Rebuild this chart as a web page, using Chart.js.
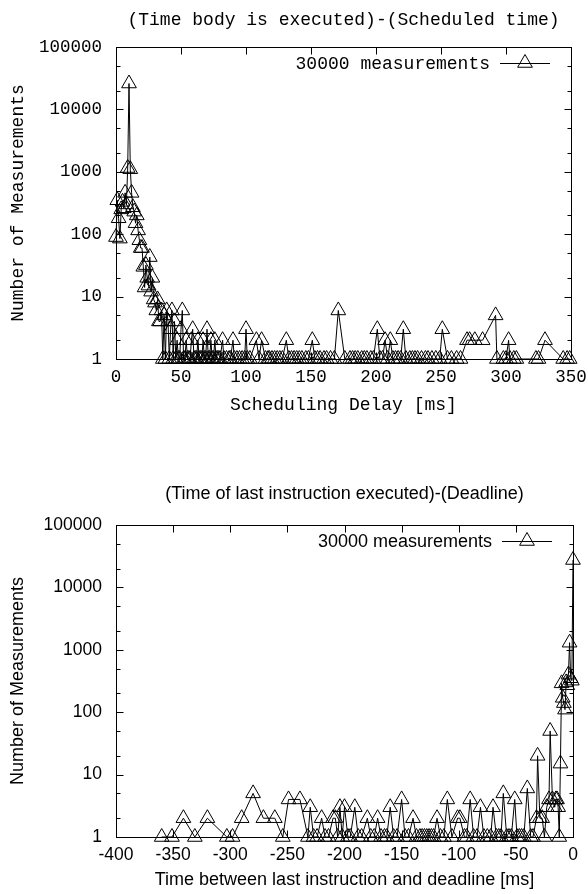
<!DOCTYPE html>
<html><head><meta charset="utf-8">
<script src="https://cdn.jsdelivr.net/npm/chart.js@4.4.1/dist/chart.umd.min.js"></script>
<style>
html,body{margin:0;padding:0;background:#fff;}
#wrap{position:relative;width:588px;height:894px;overflow:hidden;background:#fff;}
canvas{position:absolute;left:0;}
</style></head><body>
<div id="wrap">
<canvas id="c1" width="588" height="447" style="top:0px"></canvas>
<canvas id="c2" width="588" height="447" style="top:447px"></canvas>
</div>
<script>
// ---------- data ----------
const topDelay = [0,1,2,3,4,5,6,7,8,9,10,11,12,13,14,15,16,17,18,19,20,21,22,23,24,25,26,27,28,29,30,31,32,33,34,35,36,37,38,39,40,41,42,43,44,45,46,47,48,49,50,51,52,53,54,55,56,57,58,59,60,61,62,63,64,65,66,67,68,69,70,71,72,73,74,75,76,77,78,79,80,82,83,85,87,88,90,91,93,95,97,99,100,101,103,108,110,112,115,117,118,120,122,124,126,128,131,133,135,137,139,141,143,146,148,151,153,155,157,160,162,165,168,171,176,180,182,184,186,189,191,193,196,198,201,203,205,207,209,211,213,215,217,219,221,223,226,228,230,232,235,238,240,243,246,249,251,255,258,262,265,270,272,276,282,292,293,298,300,302,303,306,308,323,325,330,344,347,349];
const topCount = [90,350,180,85,250,330,260,460,300,1150,26000,1100,460,270,230,150,200,115,80,60,60,30,14,32,20,15,43,12,20,9,8,6,9,4,4,6,1,5,1,6,4,1,3,6,1,4,1,2,1,1,3,6,1,1,2,1,1,1,2,3,1,1,1,2,1,1,1,2,1,1,3,1,1,2,1,1,2,1,1,1,1,2,1,1,1,1,2,1,1,1,1,1,3,1,1,2,1,2,1,1,1,1,1,1,1,1,2,1,1,1,1,1,1,1,1,2,1,1,1,1,1,1,1,6,1,1,1,1,1,1,1,1,1,1,3,1,1,2,1,2,1,1,1,1,3,1,1,1,1,1,1,1,1,1,1,1,3,1,1,1,1,2,2,2,2,5,1,1,1,2,1,1,1,1,1,2,1,1,1];
const bottomDelay = [-360,-351,-341,-331,-320,-303,-298,-290,-280,-271,-261,-254,-249,-239,-232,-230,-227,-224,-220,-217,-214,-210,-208,-206,-204,-202,-200,-197,-195,-191,-188,-185,-180,-177,-174,-171,-168,-165,-163,-160,-157,-154,-150,-147,-144,-140,-137,-134,-132,-130,-128,-126,-124,-122,-119,-116,-113,-110,-106,-101,-99,-95,-93,-90,-87,-84,-81,-78,-75,-72,-70,-67,-65,-63,-61,-58,-56,-54,-51,-49,-47,-45,-43,-40,-37,-35,-32,-31,-29,-27,-25,-23,-21,-20,-18,-16,-15,-14,-13,-12,-11,-10,-9,-8,-7,-6,-5,-4,-3,-2,-1,0];
const bottomCount = [1,1,2,1,2,1,1,2,5,2,2,1,4,4,1,3,1,1,2,1,1,2,2,1,3,1,3,1,1,3,1,1,2,1,1,2,1,1,1,3,1,1,4,1,1,2,1,1,1,1,1,1,1,1,2,1,1,4,1,2,2,1,1,4,1,1,3,1,1,1,3,1,1,1,5,1,1,1,4,1,1,1,1,6,1,1,2,20,2,2,1,3,4,50,4,3,4,4,3,1,15,290,170,140,110,300,270,400,1300,350,320,27500];
const topXTicks = [0,50,100,150,200,250,300,350];
const bottomXTicks = [-400,-350,-300,-250,-200,-150,-100,-50,0];
const yTicks = [1,10,100,1000,10000,100000];
const yMinorMult = [2,5];
const legendLabel = '30000 measurements';
const topTitle = '(Time body is executed)-(Scheduled time)';
const bottomTitle = '(Time of last instruction executed)-(Deadline)';
const topXTitle = 'Scheduling Delay [ms]';
const bottomXTitle = 'Time between last instruction and deadline [ms]';
const yTitle = 'Number of Measurements';

const MONO = '"Courier New", Courier, "Nimbus Mono PS", FreeMono, "Liberation Mono", monospace';
const SANS = '"Liberation Sans", Arial, Helvetica, sans-serif';
const TRI_R = 8.5;

function triPath(ctx, x, y, r) {
  ctx.moveTo(x, y - r);
  ctx.lineTo(x + Math.sin(2*Math.PI/3) * r, y - Math.cos(2*Math.PI/3) * r);
  ctx.lineTo(x + Math.sin(4*Math.PI/3) * r, y - Math.cos(4*Math.PI/3) * r);
  ctx.closePath();
}

const boxPlugin = {
  id: 'box',
  beforeDatasetsDraw(chart, args, o) {
    const ctx = chart.ctx, a = chart.chartArea, xs = chart.scales.x, ys = chart.scales.y;
    const L = Math.round(a.left) + 0.5, R = Math.round(a.right) + 0.5;
    const T = Math.round(a.top) + 0.5, B = Math.round(a.bottom) + 0.5;
    ctx.save();
    // title, centred over the plot
    ctx.fillStyle = '#000';
    ctx.font = '18px ' + o.family;
    ctx.textAlign = 'center';
    ctx.textBaseline = 'middle';
    ctx.fillText(o.title, (a.left + a.right) / 2, o.titleY);
    // frame and inward tics
    ctx.strokeStyle = '#000'; ctx.lineWidth = 1;
    ctx.strokeRect(L, T, R - L, B - T);
    ctx.beginPath();
    o.xTicks.forEach(v => {
      const p = Math.round(xs.getPixelForValue(v)) + 0.5;
      ctx.moveTo(p, B); ctx.lineTo(p, B - 7);
      ctx.moveTo(p, T); ctx.lineTo(p, T + 7);
    });
    yTicks.forEach(v => {
      const p = Math.round(ys.getPixelForValue(v)) + 0.5;
      ctx.moveTo(L, p); ctx.lineTo(L + 7, p);
      ctx.moveTo(R, p); ctx.lineTo(R - 7, p);
      if (v < 100000) {
        yMinorMult.forEach(m => {
          const q = Math.round(ys.getPixelForValue(v * m)) + 0.5;
          ctx.moveTo(L, q); ctx.lineTo(L + 4, q);
          ctx.moveTo(R, q); ctx.lineTo(R - 4, q);
        });
      }
    });
    ctx.stroke();
    ctx.restore();
  },
  afterDatasetsDraw(chart, args, o) {
    const ctx = chart.ctx, a = chart.chartArea;
    const y = a.top + 16;
    ctx.save();
    ctx.fillStyle = '#000';
    ctx.font = '18px ' + o.family;
    ctx.textAlign = 'right';
    ctx.textBaseline = 'middle';
    ctx.fillText(o.label, a.right - 81, y + 1);
    ctx.strokeStyle = '#000'; ctx.lineWidth = 1;
    ctx.beginPath();
    ctx.moveTo(a.right - 71, Math.round(y) + 0.5);
    ctx.lineTo(a.right - 21, Math.round(y) + 0.5);
    ctx.stroke();
    ctx.beginPath();
    triPath(ctx, a.right - 46, y, TRI_R);
    ctx.stroke();
    ctx.restore();
  }
};

function makeChart(id, c) {
  const tickFont = { family: c.family, size: 17.5, weight: 'normal' };
  const titleFont = { family: c.family, size: 18, weight: 'normal' };
  return new Chart(document.getElementById(id), {
    type: 'line',
    data: {
      datasets: [{
        label: legendLabel,
        data: c.xs.map((x, i) => ({ x: x, y: c.ys[i] })),
        borderColor: '#000',
        borderWidth: 1,
        pointStyle: 'triangle',
        pointRadius: TRI_R,
        pointHoverRadius: TRI_R,
        pointBorderColor: '#000',
        pointBackgroundColor: 'rgba(0,0,0,0)',
        pointBorderWidth: 1,
        tension: 0,
        fill: false,
        clip: false
      }]
    },
    options: {
      responsive: false,
      animation: false,
      devicePixelRatio: 1,
      events: [],
      layout: { padding: { left: 0, right: c.padRight, top: c.padTop, bottom: 0 } },
      plugins: {
        legend: { display: false },
        tooltip: { enabled: false },
        title: { display: false },
        box: { xTicks: c.xTicks, family: c.family, label: legendLabel, title: c.title, titleY: c.titleY }
      },
      scales: {
        x: {
          type: 'linear', min: c.xMin, max: c.xMax,
          afterBuildTicks: s => { s.ticks = c.xTicks.map(v => ({ value: v })); },
          afterFit: s => { s.height = c.xHeight; s.paddingLeft = 0; s.paddingRight = 0; },
          ticks: { callback: v => String(v), font: tickFont, color: '#000', padding: 8, maxRotation: 0, autoSkip: false },
          grid: { display: false, drawTicks: false },
          border: { display: false },
          title: { display: true, text: c.xTitle, font: titleFont, color: '#000', padding: { top: 0, bottom: c.xTitlePad } }
        },
        y: {
          type: 'logarithmic', min: 1, max: 100000,
          afterBuildTicks: s => { s.ticks = yTicks.map(v => ({ value: v })); },
          afterFit: s => { s.width = 116; s.paddingTop = 0; s.paddingBottom = 0; },
          ticks: { callback: v => String(v), font: tickFont, color: '#000', padding: 14, autoSkip: false },
          grid: { display: false, drawTicks: false },
          border: { display: false },
          title: { display: true, text: yTitle, font: titleFont, color: '#000', padding: { top: 7.5, bottom: 0 } }
        }
      }
    },
    plugins: [boxPlugin]
  });
}

makeChart('c1', {
  xs: topDelay, ys: topCount, xTicks: topXTicks, xMin: 0, xMax: 350,
  family: MONO, title: topTitle, titleY: 20.5, xTitle: topXTitle,
  padTop: 47, xHeight: 88, xTitlePad: 31, padRight: 17
});
makeChart('c2', {
  xs: bottomDelay, ys: bottomCount, xTicks: bottomXTicks, xMin: -400, xMax: 0,
  family: SANS, title: bottomTitle, titleY: 47.5, xTitle: bottomXTitle,
  padTop: 78, xHeight: 57, xTitlePad: 3, padRight: 15
});
</script></body></html>
